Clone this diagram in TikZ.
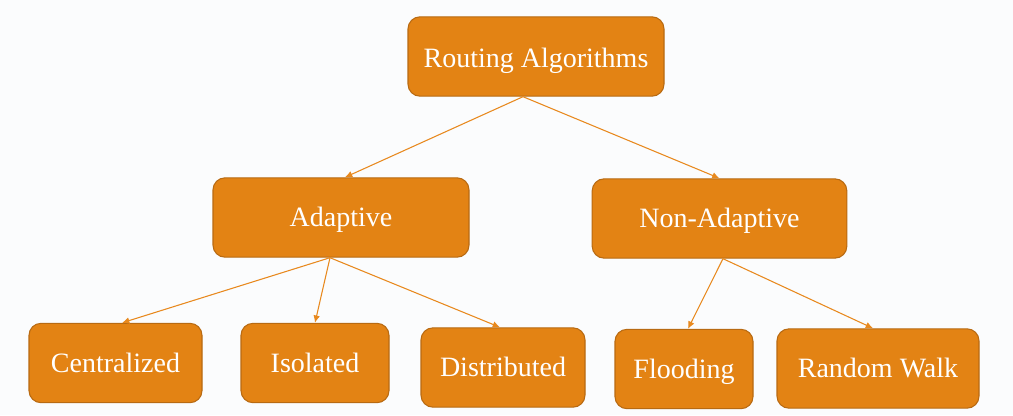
\documentclass[tikz,border=0pt]{standalone}
\usepackage{fontspec}
\setmainfont{Liberation Serif}
\usepackage{xcolor}
\usepackage{tikz}
\usetikzlibrary{arrows,arrows.meta,shapes,positioning}
\definecolor{boxorange}{HTML}{E38314}
\definecolor{boxedge}{HTML}{B86A12}
\definecolor{lineorange}{HTML}{E8891E}
\definecolor{paper}{HTML}{FBFCFD}

\begin{document}
\begin{tikzpicture}[
x=0.75pt, y=-0.75pt, >={Latex[length=5.5pt,width=5pt]},
algnode/.style={rectangle, rounded corners=9pt, draw=boxedge, fill=boxorange, thick, text=white, font=\fontsize{21}{25}\selectfont, text height=13.9pt, text depth=0pt, inner sep=0pt, minimum height=59.5pt},
link/.style={->, draw=lineorange, line width=0.8pt}
]
\fill[paper] (0,0) rectangle (1013,415);
% Top level
%Nodes
\node[algnode, minimum width=192pt, text height=16pt] (root) at (536,56.5) {Routing Algorithms};
\node[algnode, minimum width=192pt]     (adapt)     at (341,217.5)  {Adaptive};
\node[algnode, minimum width=191pt]     (nonadapt)  at (719.5,218.5) {Non-Adaptive};
%Lines
\draw[link] ([xshift=-9.75pt]root.south) -- ([xshift=3pt]adapt.north);
\draw[link] ([xshift=-9.75pt]root.south) -- (nonadapt.north);
% Adaptive children
%Nodes
\node[algnode, minimum width=129.75pt]  (central)   at (115.5,363)  {Centralized};
\node[algnode, minimum width=111pt]     (isolated)  at (315,363)    {Isolated};
\node[algnode, minimum width=123pt]     (distrib)   at (503,367.5)  {Distributed};
%Lines
\draw[link] ([xshift=-8.25pt]adapt.south) -- ([xshift=4.9pt]central.north);
\draw[link] ([xshift=-8.25pt]adapt.south) -- (isolated.north);
\draw[link] ([xshift=-8.25pt]adapt.south) -- ([xshift=-2.25pt]distrib.north);
% Non-adaptive children
%Nodes
\node[algnode, minimum width=103.5pt]   (flood)     at (684,369)    {Flooding};
\node[algnode, minimum width=151.5pt]   (walk)      at (878,368.5)  {Random Walk};
%Lines
\draw[link] ([xshift=2.6pt]nonadapt.south) -- ([xshift=3pt]flood.north);
\draw[link] ([xshift=2.6pt]nonadapt.south) -- ([xshift=-3.75pt]walk.north);

\end{tikzpicture}
\end{document}
